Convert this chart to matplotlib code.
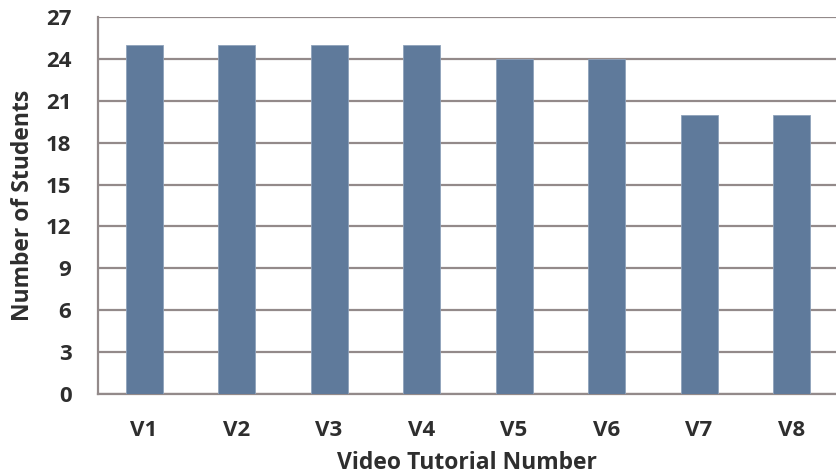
import matplotlib.pyplot as plt
import numpy as np

videos = ["V1", "V2", "V3", "V4", "V5", "V6", "V7", "V8"]
students = [25, 25, 25, 25, 24, 24, 20, 20]
y_ticks = [0, 3, 6, 9, 12, 15, 18, 21, 24, 27]

plt.rcParams['font.family'] = ['Open Sans', 'DejaVu Sans']

bar_color = "#5f7a9b"
grid_color = "#938a8a"
text_color = "#2e2e2e"

fig = plt.figure(figsize=(8.36, 4.74), dpi=100)
ax = fig.add_axes([0.117, 0.169, 0.883, 0.795])

x = np.arange(len(videos))
ax.bar(x, students, width=0.4, color=bar_color, edgecolor="#8ea2bb", linewidth=0.6, zorder=3)

ax.set_ylim(0, 27)
ax.set_yticks(y_ticks)
ax.set_xlim(-0.5, 7.48)
ax.set_xticks(x)
ax.set_xticklabels(videos, fontweight="bold")
ax.set_yticklabels([str(t) for t in y_ticks], fontweight="bold")

ax.yaxis.grid(True, color=grid_color, linewidth=1.6, zorder=0)
ax.set_axisbelow(True)
for side in ["top", "right"]:
    ax.spines[side].set_visible(False)
for side in ["left", "bottom"]:
    ax.spines[side].set_color(grid_color)
    ax.spines[side].set_linewidth(1.6)

ax.tick_params(axis="both", length=0, labelsize=16, labelcolor=text_color)
ax.tick_params(axis="y", pad=19)
ax.tick_params(axis="x", pad=19)

ax.set_xlabel("Video Tutorial Number", fontsize=16.5, fontweight="bold", color=text_color, labelpad=7)
ax.set_ylabel("Number of Students", fontsize=16.5, fontweight="bold", color=text_color, labelpad=8)

fig.savefig("out.png", dpi=100)
